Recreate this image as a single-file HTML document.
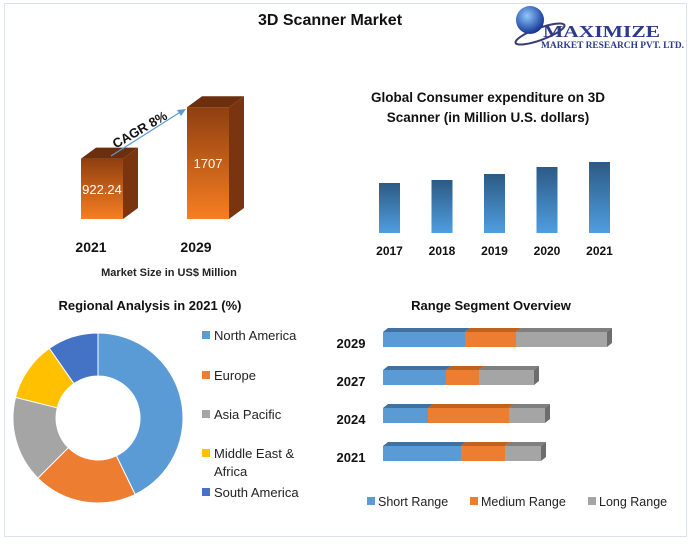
<!DOCTYPE html>
<html><head><meta charset="utf-8"><style>
body{margin:0;background:#fff;width:693px;height:541px;overflow:hidden;font-family:"Liberation Sans",Arial,sans-serif}
</style></head><body>
<svg width="693" height="541" xmlns="http://www.w3.org/2000/svg" font-family="Liberation Sans, Arial, sans-serif">
<defs>
<linearGradient id="org" x1="0" y1="0" x2="0" y2="1"><stop offset="0" stop-color="#8f3f10"/><stop offset="1" stop-color="#f77e22"/></linearGradient>
<linearGradient id="blu" x1="0" y1="0" x2="0" y2="1"><stop offset="0" stop-color="#2c5a85"/><stop offset="1" stop-color="#4f9ee0"/></linearGradient>
<radialGradient id="globe" cx="0.4" cy="0.35" r="0.7"><stop offset="0" stop-color="#8ec8ff"/><stop offset="1" stop-color="#0a2a8a"/></radialGradient>
</defs>
<rect x="4.5" y="3.5" width="682" height="533" fill="#fff" stroke="#dae3f3"/>
<text x="330" y="25" text-anchor="middle" font-size="16" font-weight="bold" fill="#111">3D Scanner Market</text>
<g>
<ellipse cx="540" cy="34" rx="26" ry="6" fill="none" stroke="#3a3a70" stroke-width="2" transform="rotate(-20 540 34)"/>
<circle cx="530" cy="20" r="14" fill="url(#globe)"/>
<text x="543" y="37" font-family="Liberation Serif, serif" font-size="17" font-weight="bold" fill="#2b3a8a" textLength="117" lengthAdjust="spacingAndGlyphs">MAXIMIZE</text>
<text x="541" y="48" font-family="Liberation Serif, serif" font-size="9" font-weight="bold" fill="#2b3a8a" textLength="143" lengthAdjust="spacingAndGlyphs">MARKET RESEARCH PVT. LTD.</text>
</g>
<g id="mkt"></g>
<text x="91" y="252" text-anchor="middle" font-size="14" font-weight="bold" fill="#111">2021</text>
<text x="196" y="252" text-anchor="middle" font-size="14" font-weight="bold" fill="#111">2029</text>
<text x="169" y="276" text-anchor="middle" font-size="11" font-weight="bold" fill="#222">Market Size in US$ Million</text>
<line x1="111" y1="156" x2="182" y2="111" stroke="#5b9bd5" stroke-width="1.2"/>
<polygon points="186,109 177,110 181,116" fill="#5b9bd5"/>
<text x="140" y="134" text-anchor="middle" font-size="13" font-weight="bold" fill="#111" transform="rotate(-30 140 130)">CAGR 8%</text>
<text x="488" y="102" text-anchor="middle" font-size="13.5" font-weight="bold" fill="#111">Global Consumer expenditure on 3D</text>
<text x="488" y="122" text-anchor="middle" font-size="13.5" font-weight="bold" fill="#111">Scanner (in Million U.S. dollars)</text>
<g id="exp"></g>
<text x="150" y="310" text-anchor="middle" font-size="13" font-weight="bold" fill="#111">Regional Analysis in 2021 (%)</text>
<g id="donut"></g>
<g id="dleg"></g>
<text x="491" y="310" text-anchor="middle" font-size="13" font-weight="bold" fill="#111">Range Segment Overview</text>
<g id="rng"></g>
<g id="rleg"></g>
</svg>
<script>
const mktYears=["2021","2029"];
const mktValues=[922.24,1707];
const expYears=["2017","2018","2019","2020","2021"];
const expValues=[50,53,59,66,71];
const regions=["North America","Europe","Asia Pacific","Middle East &\nAfrica","South America"];
const regionShares=[42.8,19.7,16.4,11.4,9.7];
const rangeYears=["2029","2027","2024","2021"];
const shortRange=[82,63,45,78];
const mediumRange=[51,33,81,44];
const longRange=[91,55,36,36];

const NS="http://www.w3.org/2000/svg";
function mk(parent,tag,attrs){const e=document.createElementNS(NS,tag);for(const k in attrs)e.setAttribute(k,attrs[k]);parent.appendChild(e);return e;}

const mkt=document.getElementById('mkt');
const mktY=v=>219-v*0.0655;
const mktX=[81,187];
mktValues.forEach((v,i)=>{
  const x=mktX[i],w=42,top=mktY(v),b=219;
  const s=mk(mkt,'polygon',{points:`${x+w},${top} ${x+w+15},${top-11} ${x+w+15},${b-11} ${x+w},${b}`,fill:'#7a3510'});
  
  
  const t=mk(mkt,'polygon',{points:`${x},${top} ${x+15},${top-11} ${x+w+15},${top-11} ${x+w},${top}`,fill:'#6b2f0d'});
  
  
  const f=mk(mkt,'rect',{x:x,y:top,width:w,height:b-top,fill:'url(#org)'});
  
  
  const l=mk(mkt,'text',{x:x+w/2,y:(top+b)/2+5,'text-anchor':'middle','font-size':13,fill:'#fff'});
  l.textContent=String(v);
  
  
});

const exp=document.getElementById('exp');
const expX=i=>379+i*52.5;
const expY=v=>233-v;
expValues.forEach((v,i)=>{
  const r=mk(exp,'rect',{x:expX(i),y:expY(v),width:21,height:233-expY(v),fill:'url(#blu)'});
  
  
  const t=mk(exp,'text',{x:expX(i)+10.5,y:255,'text-anchor':'middle','font-size':12,'font-weight':'bold',fill:'#111'});
  t.textContent=expYears[i];
  
  
});

const donut=document.getElementById('donut');
const dcol=["#5b9bd5","#ed7d31","#a5a5a5","#ffc000","#4472c4"];
const cx=98,cy=418,R=85,r=42;
let acc=0;const total=regionShares.reduce((a,b)=>a+b,0);
function pt(rad,a){return [cx+rad*Math.sin(a),cy-rad*Math.cos(a)];}
regionShares.forEach((v,i)=>{
  const a0=acc/total*2*Math.PI;acc+=v;const a1=acc/total*2*Math.PI;
  const lg=(a1-a0)>Math.PI?1:0;
  const p0=pt(R,a0),p1=pt(R,a1),q1=pt(r,a1),q0=pt(r,a0);
  const p=mk(donut,'path',{d:`M${p0} A${R},${R} 0 ${lg} 1 ${p1} L${q1} A${r},${r} 0 ${lg} 0 ${q0}Z`,fill:dcol[i],stroke:'#fff','stroke-width':1});
  
  
});
const dleg=document.getElementById('dleg');
const legY=[335,375,414,453,492];
regions.forEach((n,i)=>{
  const s=mk(dleg,'rect',{x:202,y:legY[i]-4,width:8,height:8,fill:dcol[i]});
  
  
  const parts=n.split('\n');
  parts.forEach((pp,j)=>{
    const t=mk(dleg,'text',{x:214,y:legY[i]+5+j*18,'font-size':13,fill:'#222'});
    t.textContent=pp;
    
    
  });
});

const rng=document.getElementById('rng');
const rcol=["#5b9bd5","#ed7d31","#a5a5a5"],rtop=["#41719c","#c0611d","#7f7f7f"];
const rX=v=>383+v;
const rowY=[332,370,408,446];
rangeYears.forEach((y,i)=>{
  const vals=[shortRange[i],mediumRange[i],longRange[i]];
  let s=0;const yy=rowY[i],h=15;
  vals.forEach((v,k)=>{
    const x0=rX(s),x1=rX(s+v);
    const tp=mk(rng,'polygon',{points:`${x0},${yy} ${x0+5},${yy-4} ${x1+5},${yy-4} ${x1},${yy}`,fill:rtop[k]});
    
    
    const rc=mk(rng,'rect',{x:x0,y:yy,width:x1-x0,height:h,fill:rcol[k]});
    
    
    s+=v;
  });
  const xe=rX(s);
  const sd=mk(rng,'polygon',{points:`${xe},${yy} ${xe+5},${yy-4} ${xe+5},${yy+h-4} ${xe},${yy+h}`,fill:'#6d6d6d'});
  
  
  const t=mk(rng,'text',{x:351,y:yy+16,'text-anchor':'middle','font-size':13,'font-weight':'bold',fill:'#111'});
  t.textContent=y;
  
  
});
const rleg=document.getElementById('rleg');
const rn=["Short Range","Medium Range","Long Range"],rlx=[367,470,588];
rn.forEach((n,k)=>{
  const s=mk(rleg,'rect',{x:rlx[k],y:497,width:8,height:8,fill:rcol[k]});
  
  
  const t=mk(rleg,'text',{x:rlx[k]+11,y:506,'font-size':12.5,fill:'#222'});
  t.textContent=n;
  
  
});
</script>
</body></html>
